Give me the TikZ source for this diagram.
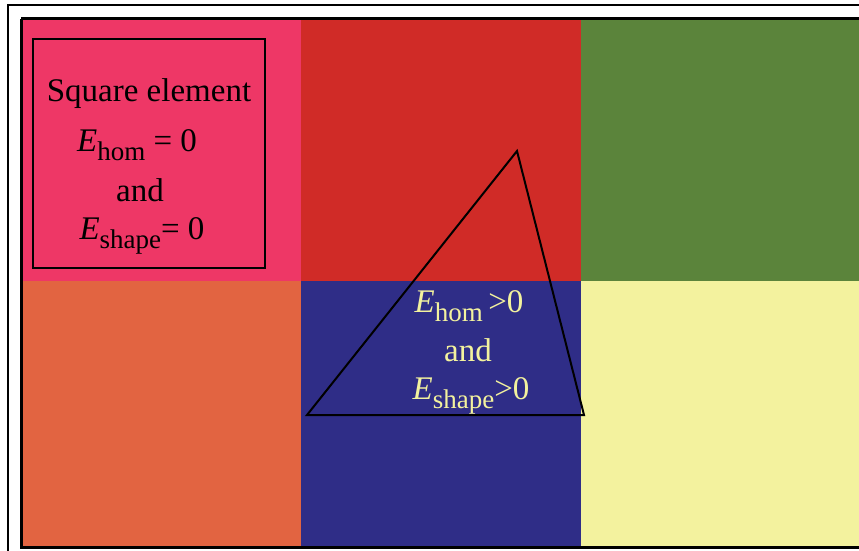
\documentclass[tikz,border=0pt]{standalone}
\usepackage{fontspec}
\setmainfont{Liberation Serif}
\definecolor{cpink}{HTML}{EE3766}
\definecolor{cred}{HTML}{D02B27}
\definecolor{cgreen}{HTML}{5B843B}
\definecolor{corange}{HTML}{E26441}
\definecolor{cblue}{HTML}{2F2D87}
\definecolor{cyel}{HTML}{F3F29E}
\newcommand{\mysub}[1]{\raisebox{-0.28em}{\fontsize{27}{27}\selectfont #1}}
\tikzset{lbl/.style={font=\fontsize{33}{48}\selectfont, align=center, inner sep=0pt}}
\begin{document}
\begin{tikzpicture}[x=1pt,y=-1pt]
\useasboundingbox (0,0) rectangle (859,551);
\fill[white] (0,0) rectangle (859,551);
% cells
\fill[cpink] (21,19) rectangle (301,281);
\fill[cred] (301,19) rectangle (581,281);
\fill[cgreen] (581,19) rectangle (860,281);
\fill[corange] (21,281) rectangle (301,547);
\fill[cblue] (301,281) rectangle (581,547);
\fill[cyel] (581,281) rectangle (860,547);
% frames
\draw[line width=2pt] (7.5,560) -- (7.5,5.5) -- (870,5.5);
\draw[line width=3pt] (21,19) -- (865,19);
\draw[line width=3pt] (21,19) -- (21,547) -- (865,547);
% inner box
\draw[line width=2.2pt] (33,39) rectangle (265,268);
\node[lbl] (t1) at (149,94) {Square element};
\node[lbl] (t2) at (137,145) {\textit{E}\mysub{hom} = 0};
\node[lbl] (t3) at (140,190) {and};
\node[lbl] (t4) at (142,236) {\textit{E}\mysub{shape}= 0};
% triangle
\coordinate (a) at (517,151);
\coordinate (b) at (307,415);
\coordinate (c) at (584,415);
\draw[line width=2pt, line join=miter] (a) -- (b) -- (c) -- cycle;
\node[lbl, text=cyel] (u1) at (469,306) {\textit{E}\mysub{hom}\,>0};
\node[lbl, text=cyel] (u2) at (468,350) {and};
\node[lbl, text=cyel] (u3) at (471,396) {\textit{E}\mysub{shape}>0};
\end{tikzpicture}
\end{document}
